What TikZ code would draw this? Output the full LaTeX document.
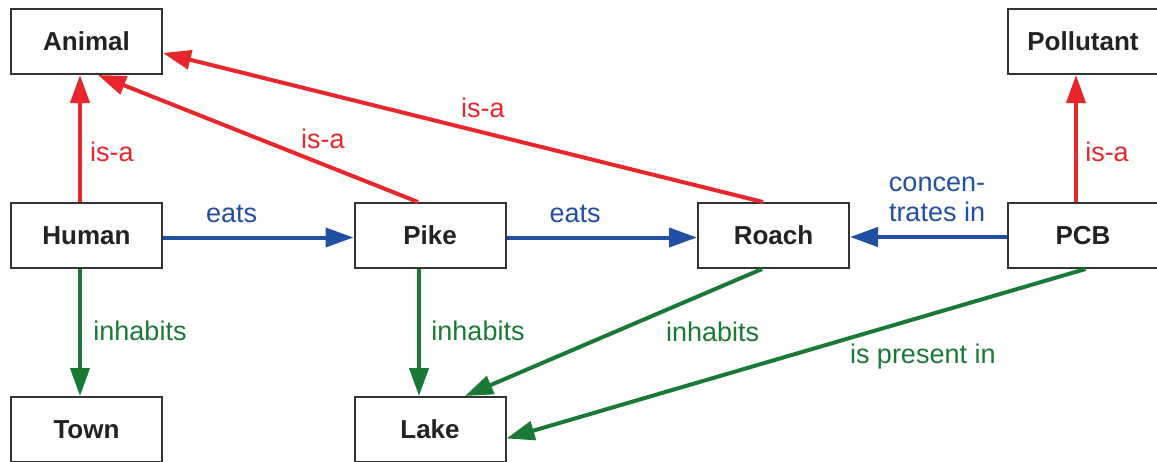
\documentclass[tikz,border=0pt]{standalone}
\usepackage{fontspec}
\setmainfont{Liberation Sans}
\usetikzlibrary{arrows.meta}
\definecolor{isared}{RGB}{233,38,44}
\definecolor{eatblue}{RGB}{33,79,162}
\definecolor{livegreen}{RGB}{24,122,52}
\definecolor{boxgray}{RGB}{51,51,51}
\definecolor{nodetext}{RGB}{34,34,34}
\begin{document}
\begin{tikzpicture}[x=1pt,y=-1pt,
  concept/.style={draw=boxgray, line width=2pt, minimum width=151pt, minimum height=65pt,
    inner sep=0pt, font=\fontsize{26}{30}\selectfont\bfseries, text=nodetext},
  rel/.style={line width=4pt, -{Triangle[length=28pt,width=19pt]}},
  isa/.style={rel, color=isared},
  eats/.style={rel, color=eatblue},
  lives/.style={rel, color=livegreen},
  lbl/.style={font=\fontsize{27}{30}\selectfont, inner sep=0pt, align=center}
]
\fill[white] (0,0) rectangle (1157,461);
\useasboundingbox (0,0) rectangle (1157,461);

% concepts
\node[concept] (animal)    at (86.5,41.5)   {Animal};
\node[concept] (pollutant) at (1083,41.5)   {Pollutant};
\node[concept] (human)     at (86.5,235.5)  {Human};
\node[concept] (pike)      at (430,235.5)   {Pike};
\node[concept] (roach)     at (773.5,235.5) {Roach};
\node[concept] (pcb)       at (1083,235.5)  {PCB};
\node[concept] (town)      at (86.5,429.5)  {Town};
\node[concept] (lake)      at (430,429.5)   {Lake};

% is-a relations
\draw[isa] ([xshift=-6.5pt]human.north) -- ([xshift=-6.5pt]animal.south)
  node[lbl, pos=0.395, xshift=32pt] {is-a};
\draw[isa] ([xshift=-12pt]pike.north) -- ([xshift=11.5pt]animal.south)
  node[lbl, pos=0.297, yshift=25pt] {is-a};
\draw[isa] ([xshift=-10.5pt]roach.north) -- ([yshift=-11.5pt]animal.east)
  node[lbl, pos=0.467, yshift=25pt] {is-a};
\draw[isa] ([xshift=-7pt]pcb.north) -- ([xshift=-7pt]pollutant.south)
  node[lbl, pos=0.395, xshift=31pt] {is-a};

% eats / concentrates in
\draw[eats] ([yshift=-2pt]human.east) -- ([yshift=-2pt]pike.west)
  node[lbl, pos=0.36, yshift=24pt] {eats};
\draw[eats] ([yshift=-2pt]pike.east) -- ([yshift=-2pt]roach.west)
  node[lbl, pos=0.36, yshift=24pt] {eats};
\draw[eats] ([yshift=-1.5pt]pcb.west) -- ([yshift=-1.5pt]roach.east)
  node[lbl, pos=0.444, yshift=38pt] {concen-\\trates in};

% inhabits / is present in
\draw[lives] ([xshift=-6.5pt]human.south) -- ([xshift=-6.5pt]town.north)
  node[lbl, pos=0.488, xshift=60pt] {inhabits};
\draw[lives] ([xshift=-11pt]pike.south) -- ([xshift=-11pt]lake.north)
  node[lbl, pos=0.488, xshift=59pt] {inhabits};
\draw[lives] ([xshift=-11.5pt]roach.south) -- ([xshift=35pt]lake.north)
  node[lbl, pos=0.166, yshift=-42pt] {inhabits};
\draw[lives] ([xshift=2.5pt]pcb.south) -- ([yshift=-9pt]lake.east)
  node[lbl, pos=0.281, yshift=-40pt] {is present in};
\end{tikzpicture}
\end{document}
